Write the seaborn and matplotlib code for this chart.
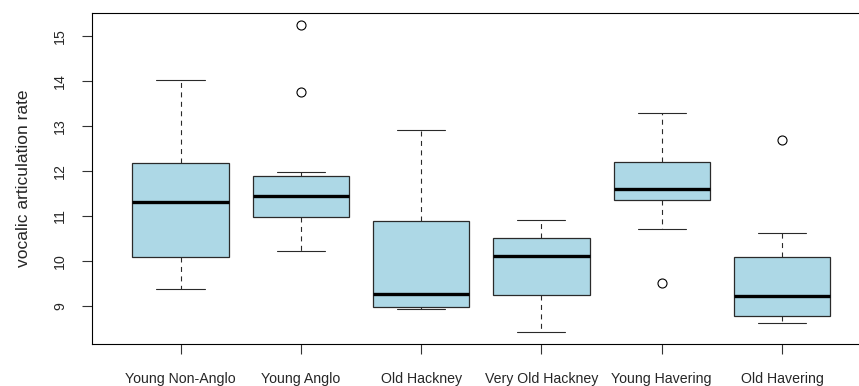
import matplotlib
matplotlib.use("Agg")
import matplotlib.pyplot as plt
import numpy as np
import pandas as pd
import seaborn as sns

# Speaker groups and their five-number summaries of vocalic articulation rate
groups = ["Young Non-Anglo", "Young Anglo", "Old Hackney",
          "Very Old Hackney", "Young Havering", "Old Havering"]
whisker_low = [9.36, 10.22, 8.93, 8.42, 10.70, 8.61]
lower_quartile = [10.08, 10.98, 8.97, 9.24, 11.36, 8.76]
median = [11.30, 11.44, 9.26, 10.10, 11.60, 9.21]
upper_quartile = [12.18, 11.89, 10.88, 10.51, 12.19, 10.08]
whisker_high = [14.03, 11.97, 12.92, 10.90, 13.29, 10.61]
outliers = [[], [13.75, 15.24], [], [], [9.50], [12.69]]

y_ticks = [9, 10, 11, 12, 13, 14, 15]

# Long-form table: every summary value carries equal weight, so the
# quartiles, median and whisker ends computed by seaborn fall on them.
weight = 10
rows = []
for g, lo, q1, med, q3, hi, out in zip(groups, whisker_low, lower_quartile,
                                       median, upper_quartile, whisker_high,
                                       outliers):
    for v in (lo, q1, med, q3, hi):
        rows += [(g, v)] * weight
    rows += [(g, v) for v in out]
df = pd.DataFrame(rows, columns=["group", "rate"])

sns.set_theme(style="white")
plt.rcParams["font.family"] = ["Liberation Sans", "DejaVu Sans"]

fig = plt.figure(figsize=(8.59, 3.86), dpi=100)
ax = fig.add_axes([91.5 / 859, 1 - 344 / 386, (871 - 91.5) / 859, (344 - 12.7) / 386])

sns.boxplot(
    data=df, x="group", y="rate", order=groups, ax=ax,
    color="#ADD8E6", linecolor="black", width=0.8, whis=1.5,
    saturation=1,
    boxprops=dict(facecolor="#ADD8E6", edgecolor="#2a2a2a", linewidth=0.9),
    medianprops=dict(color="black", linewidth=2.4, solid_capstyle="butt"),
    whiskerprops=dict(color="#2a2a2a", linewidth=0.8, linestyle=(0, (4.5, 4))),
    capprops=dict(color="#2a2a2a", linewidth=0.8),
    flierprops=dict(marker="o", markersize=6.5, markerfacecolor="none",
                    markeredgecolor="black", markeredgewidth=0.8),
)

ax.set_xlim(-0.74, 5.74)
ax.set_ylim(8.147, 15.52)
ax.set_yticks(y_ticks)
ax.set_yticklabels([str(t) for t in y_ticks], rotation=90, va="center")
ax.set_xlabel("")
ax.set_ylabel("vocalic articulation rate", fontsize=12.5, labelpad=16)

ax.tick_params(axis="both", which="both", direction="out", length=7.5,
               width=0.8, color="#333333", labelsize=10.2, left=True,
               bottom=True)
ax.tick_params(axis="x", pad=13)
ax.tick_params(axis="y", pad=10)

for side in ["left", "top", "bottom", "right"]:
    ax.spines[side].set_visible(True)
    ax.spines[side].set_color("black")
    ax.spines[side].set_linewidth(0.8)

fig.savefig("out.png", dpi=100)
